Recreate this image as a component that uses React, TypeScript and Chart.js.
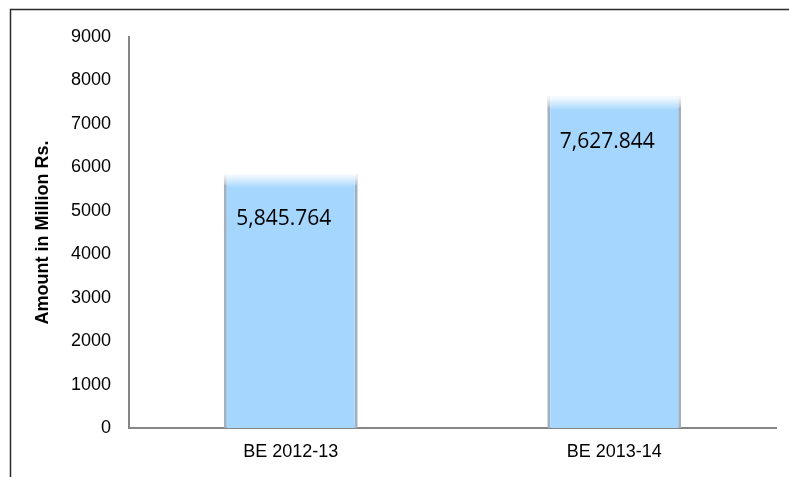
import React, { useEffect, useRef } from "react";
import { Chart, registerables } from "chart.js";

Chart.register(...registerables);

const categories = ["BE 2012-13", "BE 2013-14"];
const amounts = [5845.764, 7627.844];
const amountLabels = ["5,845.764", "7,627.844"];
const yTitle = "Amount in Million Rs.";

const framePlugin = {
  id: "frame",
  beforeDraw(chart: any) {
    const { ctx, width, height } = chart;
    ctx.save();
    ctx.fillStyle = "#ffffff";
    ctx.fillRect(0, 0, width, height);
    ctx.strokeStyle = "#2a2a2a";
    ctx.lineWidth = 1.5;
    ctx.beginPath();
    ctx.moveTo(10.5, height);
    ctx.lineTo(10.5, 9.5);
    ctx.lineTo(width, 9.5);
    ctx.stroke();
    ctx.restore();
  },
};

const barDecorPlugin = {
  id: "barDecor",
  afterDatasetsDraw(chart: any) {
    const { ctx } = chart;
    const meta = chart.getDatasetMeta(0);
    ctx.save();
    meta.data.forEach((bar: any, i: number) => {
      const left = bar.x - bar.width / 2;
      const right = bar.x + bar.width / 2;
      const top = bar.y;
      const g = ctx.createLinearGradient(0, top, 0, top + 14);
      g.addColorStop(0, "rgba(255,255,255,0.95)");
      g.addColorStop(1, "rgba(255,255,255,0)");
      ctx.fillStyle = g;
      ctx.beginPath();
      ctx.moveTo(left, top + 10);
      ctx.lineTo(left + 8, top + 14);
      ctx.lineTo(right - 8, top + 14);
      ctx.lineTo(right, top + 10);
      ctx.lineTo(right, top);
      ctx.lineTo(left, top);
      ctx.closePath();
      ctx.fill();
      ctx.fillStyle = "#000000";
      ctx.font = "21px 'Open Sans', sans-serif";
      ctx.textAlign = "center";
      ctx.textBaseline = "middle";
      ctx.fillText(amountLabels[i], bar.x - 7, top + 45);
    });
    ctx.restore();
  },
};

export default function App() {
  const ref = useRef<HTMLCanvasElement | null>(null);

  useEffect(() => {
    document.body.style.margin = "0";
    if (!ref.current) return;
    const chart = new Chart(ref.current, {
      type: "bar",
      data: {
        labels: categories,
        datasets: [
          {
            data: amounts,
            backgroundColor: "#a4d6fe",
            borderColor: "#a3b1bf",
            borderWidth: { left: 3, right: 3, top: 0, bottom: 0 } as any,
            borderSkipped: false,
            categoryPercentage: 1,
            barPercentage: 0.414,
          },
        ],
      },
      options: {
        responsive: false,
        animation: false,
        devicePixelRatio: 1,
        layout: { padding: { top: 37, right: 13, left: 0, bottom: 0 } },
        plugins: {
          legend: { display: false },
          tooltip: { enabled: false },
        },
        scales: {
          x: {
            grid: { display: false, drawTicks: false },
            border: { display: true, color: "#868686", width: 2 },
            ticks: {
              color: "#000000",
              padding: 13,
              font: { family: "'Liberation Sans', Arial, sans-serif", size: 18 },
            },
            afterFit(scale: any) {
              scale.height = 49;
            },
          },
          y: {
            min: 0,
            max: 9000,
            grid: { display: false, drawTicks: false },
            border: { display: true, color: "#868686", width: 2 },
            ticks: {
              stepSize: 1000,
              color: "#000000",
              padding: 18,
              font: { family: "'Liberation Sans', Arial, sans-serif", size: 18 },
              callback: (v: any) => String(v),
            },
            title: {
              display: true,
              text: yTitle,
              color: "#000000",
              padding: { top: 32, bottom: 0 },
              font: { family: "'Liberation Sans', Arial, sans-serif", size: 18, weight: "bold" },
            },
            afterFit(scale: any) {
              scale.width = 129;
            },
          },
        },
      },
      plugins: [framePlugin, barDecorPlugin],
    });
    return () => chart.destroy();
  }, []);

  return (
    <div style={{ width: 789, height: 477, position: "relative" }}>
      <canvas ref={ref} width={789} height={477} style={{ display: "block" }} />
    </div>
  );
}
